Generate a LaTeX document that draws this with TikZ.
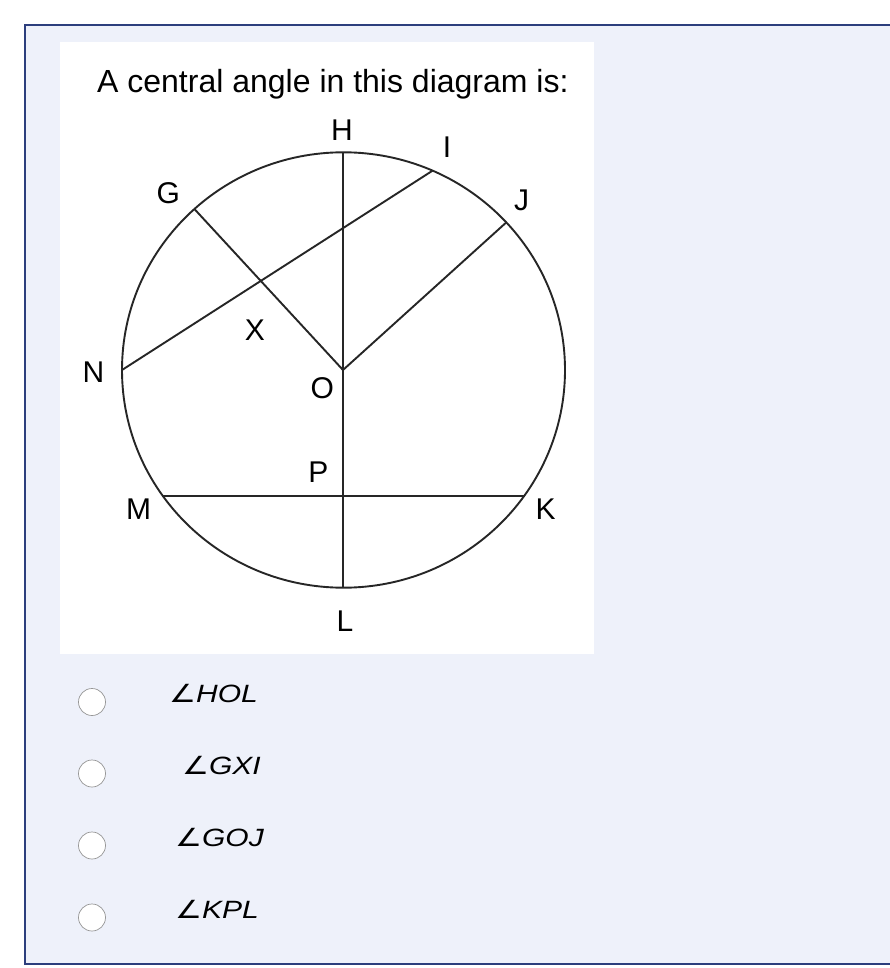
\documentclass[tikz,border=0pt]{standalone}
\usepackage{fontspec}
\setmainfont{Liberation Sans}
\newfontfamily\anglefont[FakeStretch=1.2]{DejaVu Sans}
\newfontfamily\optfont[FakeStretch=1.2]{Liberation Sans}
\definecolor{pagebg}{RGB}{238,241,250}
\definecolor{frameblue}{RGB}{44,62,125}
\definecolor{radiogray}{RGB}{150,150,150}
\newcommand{\angname}[1]{{\anglefont\itshape ∠}{\optfont\itshape #1}}

\begin{document}
\begin{tikzpicture}[x=1pt,y=-1pt]
      \tikzstyle{lbl}=[inner sep=0pt,font=\fontsize{30}{30}\selectfont];
      \tikzstyle{chord}=[line width=1.9pt,draw=black!85];
      \tikzstyle{radio}=[draw=radiogray,fill=white,circle,minimum size=27pt,inner sep=0pt,line width=0.7pt];
      \tikzstyle{opt}=[anchor=base west,inner sep=0pt,font=\fontsize{25}{25}\selectfont];

        \useasboundingbox (0,0) rectangle (890,968);
        \path[fill=pagebg,draw=frameblue,line width=2.2pt] (25,25) rectangle (900,964);
        \path[fill=white] (60,42) rectangle (593.5,653.5);

        \node[anchor=base west,inner sep=0pt,font=\fontsize{32}{32}\selectfont] (title) at (97,92.7) {A central angle in this diagram is:};

        % points on the circle
        \coordinate (O) at (343.5,370);
        \coordinate (C) at (343,370);
        \coordinate (H) at (343,152.3);
        \coordinate (L) at (343,587.7);
        \coordinate (N) at (122,370);
        \coordinate (I) at (432.5,170.7);
        \coordinate (G) at (194.4,209.0);
        \coordinate (J) at (506.3,222.4);
        \coordinate (M) at (162.7,495.8);
        \coordinate (K) at (524.3,495.8);
        \coordinate (P) at (343,495.8);

        \path[draw=black!85,line width=1.9pt] (O) ellipse [x radius=221.5pt, y radius=217.7pt];

        \path[chord] (H) -- (L);
        \path[chord] (N) -- (I);
        \path[chord] (G) -- (C);
        \path[chord] (C) -- (J);
        \path[chord] (M) -- (K);

        \path (342,130)   node[lbl] (tH) {H};
        \path (447,147)   node[lbl] (tI) {I};
        \path (168.3,193) node[lbl] (tG) {G};
        \path (521.7,200) node[lbl] (tJ) {J};
        \path (255,330.5) node[lbl] (tX) {X};
        \path (93.4,372.5) node[lbl] (tN) {N};
        \path (322.4,388) node[lbl] (tO) {O};
        \path (318.3,472.5) node[lbl] (tP) {P};
        \path (138.5,509) node[lbl] (tM) {M};
        \path (545.5,509) node[lbl] (tK) {K};
        \path (345,621)   node[lbl] (tL) {L};

        % answer choices
        \path (92,702)   node[radio] (r1) {};
        \path (92,773.5) node[radio] (r2) {};
        \path (92,845.5) node[radio] (r3) {};
        \path (92,917.5) node[radio] (r4) {};

        \path (169,702) node[opt] (a1) {\angname{HOL}};
        \path (182,774) node[opt] (a2) {\angname{GXI}};
        \path (175,846) node[opt] (a3) {\angname{GOJ}};
        \path (175,918) node[opt] (a4) {\angname{KPL}};
    \end{tikzpicture}
\end{document}
